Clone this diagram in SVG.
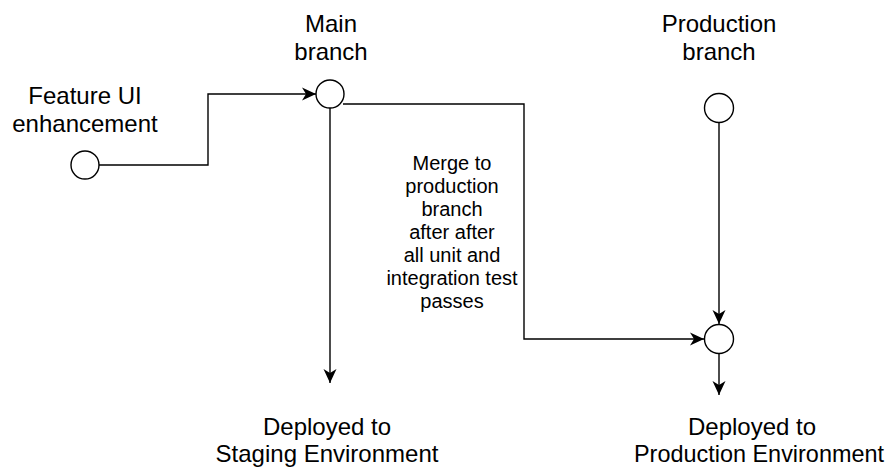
<svg xmlns="http://www.w3.org/2000/svg" width="889" height="468" viewBox="0 0 889 468">
<style>
.n{fill:#fff;stroke:#000;stroke-width:1.4}
.e{fill:none;stroke:#000;stroke-width:1.4}
.t{font-family:"Liberation Sans",Arial,sans-serif;font-size:24px;fill:#000;text-anchor:middle}
.l{font-family:"Liberation Sans",Arial,sans-serif;font-size:20px;fill:#000;text-anchor:middle}
</style>
<defs>
<marker id="a" markerUnits="userSpaceOnUse" markerWidth="15" markerHeight="14" refX="14" refY="7" orient="auto">
<path d="M0,0.5 L14,7 L0,13.5 L4,7 Z" fill="#000"/>
</marker>
</defs>
<rect width="889" height="468" fill="#fff"/>
<g id="connectors">
<path class="e" d="M99,165 H208 V94 H316" marker-end="url(#a)"/>
<path class="e" d="M343,104 H524 V339 H704" marker-end="url(#a)"/>
<path class="e" d="M330,108 V383" marker-end="url(#a)"/>
<path class="e" d="M719,123 V324" marker-end="url(#a)"/>
<path class="e" d="M719,354 V395" marker-end="url(#a)"/>
</g>
<g id="feature">
<circle class="n" cx="85" cy="165" r="14"/>
<text class="t" x="85" y="104">Feature UI</text>
<text class="t" x="85" y="132">enhancement</text>
</g>
<g id="main">
<circle class="n" cx="330" cy="94" r="14"/>
<text class="t" x="331" y="32">Main</text>
<text class="t" x="331" y="60">branch</text>
</g>
<g id="production">
<circle class="n" cx="719" cy="108" r="14.5"/>
<text class="t" x="719" y="32">Production</text>
<text class="t" x="719" y="60">branch</text>
</g>
<g id="merge">
<circle class="n" cx="719" cy="339" r="14.5"/>
</g>
<g id="merge-label">
<text class="l" x="452" y="170">Merge to</text>
<text class="l" x="452" y="193">production</text>
<text class="l" x="452" y="216">branch</text>
<text class="l" x="452" y="239">after after</text>
<text class="l" x="452" y="262">all unit and</text>
<text class="l" x="452" y="285">integration test</text>
<text class="l" x="452" y="308">passes</text>
</g>
<g id="staging">
<text class="t" x="327" y="435">Deployed to</text>
<text class="t" x="327" y="462">Staging Environment</text>
</g>
<g id="prod-env">
<text class="t" x="752" y="435">Deployed to</text>
<text class="t" x="759" y="462" textLength="250" lengthAdjust="spacingAndGlyphs">Production Environment</text>
</g>
</svg>
